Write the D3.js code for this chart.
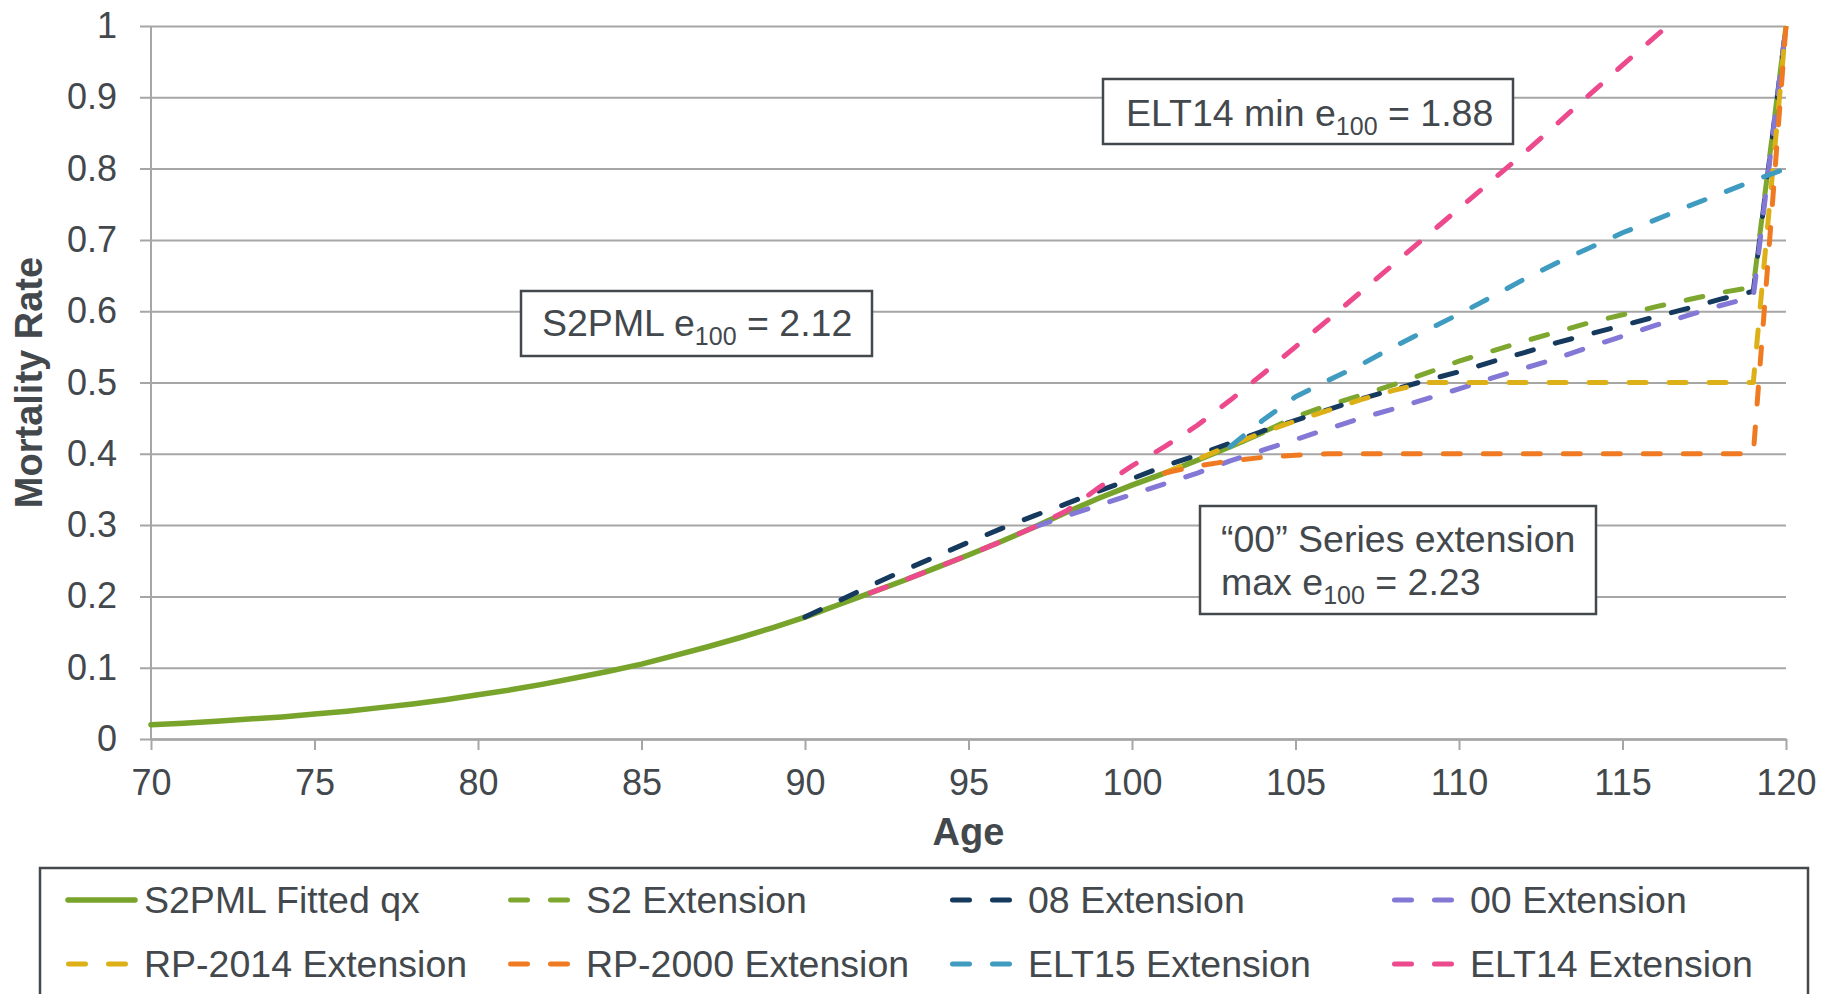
<!DOCTYPE html>
<html>
<head>
<meta charset="utf-8">
<title>Mortality Rate extensions</title>
<script src="https://cdn.jsdelivr.net/npm/d3@7"></script>
<style>
    body { margin: 0; background: #ffffff; }
    svg { display: block; font-family: "Liberation Sans", Arial, sans-serif; }
</style>
</head>
<body>
<div id="chart"></div>
<script>

// Data

var xTicks = [70, 75, 80, 85, 90, 95, 100, 105, 110, 115, 120];
var yTicks = [0, 0.1, 0.2, 0.3, 0.4, 0.5, 0.6, 0.7, 0.8, 0.9, 1];
var yTickLabels = ["0", "0.1", "0.2", "0.3", "0.4", "0.5", "0.6", "0.7", "0.8", "0.9", "1"];

var seriesNames = ["S2PML Fitted qx", "S2 Extension", "08 Extension", "00 Extension",
                   "RP-2014 Extension", "RP-2000 Extension", "ELT15 Extension", "ELT14 Extension"];
var seriesColors = ["#78a42c", "#7ea72f", "#153a5e", "#8478d6",
                    "#deb018", "#f07a22", "#3f9cc0", "#ec4a8c"];

var fittedAge = [70, 71, 72, 73, 74, 75, 76, 77, 78, 79, 80, 81, 82, 83, 84, 85, 86, 87,
                 88, 89, 90, 91, 92, 93, 94, 95, 96, 97, 98, 99, 100, 101, 102, 103, 104];
var fittedQx = [0.020, 0.022, 0.025, 0.028, 0.031, 0.035, 0.039, 0.044, 0.049, 0.055, 0.062,
                0.069, 0.077, 0.086, 0.095, 0.105, 0.117, 0.129, 0.142, 0.156, 0.171, 0.188,
                0.205, 0.222, 0.240, 0.258, 0.277, 0.297, 0.318, 0.338, 0.356, 0.373, 0.391,
                0.410, 0.430];

var s2Age = [103, 104, 105, 106, 107, 108, 109, 110, 111, 112, 113, 114, 115, 116, 117, 118, 119, 120];
var s2Qx = [0.410, 0.430, 0.452, 0.468, 0.482, 0.497, 0.513, 0.530, 0.544, 0.558, 0.571,
            0.584, 0.595, 0.606, 0.616, 0.626, 0.634, 1.0];

var ext08Age = [90, 91, 92, 93, 94, 95, 96, 97, 98, 99, 100, 101, 102, 103, 104, 105, 106, 107,
                108, 109, 110, 111, 112, 113, 114, 115, 116, 117, 118, 119, 120];
var ext08Qx = [0.171, 0.193, 0.215, 0.236, 0.256, 0.276, 0.295, 0.313, 0.330, 0.348, 0.365,
               0.383, 0.398, 0.415, 0.432, 0.447, 0.462, 0.477, 0.490, 0.503, 0.515, 0.529,
               0.542, 0.556, 0.568, 0.580, 0.592, 0.604, 0.617, 0.628, 1.0];

var ext00Age = [97, 98, 99, 100, 101, 102, 103, 104, 105, 106, 107, 108, 109, 110, 111, 112,
                113, 114, 115, 116, 117, 118, 119, 120];
var ext00Qx = [0.297, 0.313, 0.328, 0.343, 0.358, 0.373, 0.390, 0.405, 0.420, 0.435, 0.450,
               0.463, 0.477, 0.491, 0.506, 0.520, 0.534, 0.550, 0.565, 0.580, 0.594, 0.608,
               0.620, 1.0];

var rp2014Age = [101, 102, 103, 104, 105, 106, 107, 108, 109, 110, 111, 112, 113, 114, 115,
                 116, 117, 118, 119, 120];
var rp2014Qx = [0.373, 0.392, 0.412, 0.430, 0.446, 0.461, 0.476, 0.489, 0.500, 0.500, 0.500,
                0.500, 0.500, 0.500, 0.500, 0.500, 0.500, 0.500, 0.500, 1.0];

var rp2000Age = [101, 102, 103, 104, 105, 106, 107, 108, 109, 110, 111, 112, 113, 114, 115,
                 116, 117, 118, 119, 120];
var rp2000Qx = [0.373, 0.383, 0.390, 0.395, 0.398, 0.400, 0.400, 0.400, 0.400, 0.400, 0.400,
                0.400, 0.400, 0.400, 0.400, 0.400, 0.400, 0.400, 0.400, 1.0];

var elt15Age = [103, 104, 105, 106, 107, 108, 109, 110, 111, 112, 113, 114, 115, 116, 117, 118, 119, 120];
var elt15Qx = [0.410, 0.447, 0.480, 0.503, 0.525, 0.550, 0.573, 0.596, 0.620, 0.645, 0.668,
               0.689, 0.710, 0.728, 0.747, 0.765, 0.783, 0.800];

var elt14Age = [92, 93, 94, 95, 96, 97, 98, 99, 100, 101, 102, 103, 104, 105, 106, 107, 108,
                109, 110, 111, 112, 113, 114, 115, 116, 117, 118, 119, 120];
var elt14Qx = [0.205, 0.222, 0.240, 0.258, 0.277, 0.297, 0.320, 0.353, 0.383, 0.410, 0.440,
               0.475, 0.512, 0.550, 0.588, 0.627, 0.666, 0.705, 0.744, 0.783, 0.822, 0.863,
               0.904, 0.945, 0.985, 1.025, 1.065, 1.105, 1.145];

var seriesAges = [fittedAge, s2Age, ext08Age, ext00Age, rp2014Age, rp2000Age, elt15Age, elt14Age];
var seriesValues = [fittedQx, s2Qx, ext08Qx, ext00Qx, rp2014Qx, rp2000Qx, elt15Qx, elt14Qx];


var chart = {

    settings : {
        width : 1823,
        height : 994,
        plotLeft : 151,
        plotRight : 1786,
        plotTop : 26,
        plotBottom : 739,
        textColor : "#43484d",
        gridColor : "#a6a6a6",
        boxColor : "#43484d",
        tickFontSize : 36,
        fontSize : 37.5,
        titleFontSize : 38,
        lineWidth : 5,
        dash : "17,23",
    },

    draw : function(){
        var s = chart.settings;

        var svg = d3.select("#chart").append("svg")
            .attr("width", s.width)
            .attr("height", s.height);

        var x = d3.scaleLinear().domain([70, 120]).range([s.plotLeft, s.plotRight]);
        var y = d3.scaleLinear().domain([0, 1]).range([s.plotBottom, s.plotTop]);

        // clip so lines going past 1 stop at the top of the plot
        svg.append("clipPath").attr("id", "plotClip")
            .append("rect")
            .attr("x", s.plotLeft - 5)
            .attr("y", s.plotTop)
            .attr("width", s.plotRight - s.plotLeft + 10)
            .attr("height", s.plotBottom - s.plotTop + 5);

        // horizontal gridlines + y axis ticks/labels
        var yAxis = svg.append("g")
            .attr("transform", "translate(" + s.plotLeft + ",0)")
            .call(d3.axisLeft(y)
                .tickValues(yTicks)
                .tickFormat(function(d, i){ return yTickLabels[i]; })
                .tickSize(11)
                .tickPadding(23));
        yAxis.select(".domain").remove();
        yAxis.selectAll(".tick line")
            .attr("x2", s.plotRight - s.plotLeft)
            .attr("x1", -11)
            .attr("stroke", s.gridColor)
            .attr("stroke-width", 2);
        yAxis.selectAll(".tick text")
            .attr("fill", s.textColor)
            .style("font-size", s.tickFontSize + "px")
            .style("font-family", "'Liberation Sans', Arial, sans-serif");

        // vertical axis line
        svg.append("line")
            .attr("x1", s.plotLeft).attr("x2", s.plotLeft)
            .attr("y1", s.plotTop).attr("y2", s.plotBottom)
            .attr("stroke", s.gridColor)
            .attr("stroke-width", 2);

        // x axis
        var xAxis = svg.append("g")
            .attr("transform", "translate(0," + s.plotBottom + ")")
            .call(d3.axisBottom(x)
                .tickValues(xTicks)
                .tickSize(11)
                .tickPadding(19)
                .tickSizeOuter(0));
        xAxis.select(".domain")
            .attr("stroke", s.gridColor)
            .attr("stroke-width", 2.5);
        xAxis.selectAll(".tick line")
            .attr("stroke", s.gridColor)
            .attr("stroke-width", 2);
        xAxis.selectAll(".tick text")
            .attr("fill", s.textColor)
            .style("font-size", s.tickFontSize + "px")
            .style("font-family", "'Liberation Sans', Arial, sans-serif");

        // axis titles
        svg.append("text")
            .attr("x", (s.plotLeft + s.plotRight) / 2)
            .attr("y", 845)
            .attr("text-anchor", "middle")
            .attr("fill", s.textColor)
            .style("font-size", s.titleFontSize + "px")
            .style("font-weight", "bold")
            .text("Age");

        svg.append("text")
            .attr("transform", "translate(42," + ((s.plotTop + s.plotBottom) / 2) + ") rotate(-90)")
            .attr("text-anchor", "middle")
            .attr("fill", s.textColor)
            .style("font-size", s.titleFontSize + "px")
            .style("font-weight", "bold")
            .text("Mortality Rate");

        // series lines
        var line = d3.line()
            .x(function(d){ return x(d[0]); })
            .y(function(d){ return y(d[1]); });

        var lines = svg.append("g").attr("clip-path", "url(#plotClip)");
        seriesNames.forEach(function(name, i){
            var pts = seriesAges[i].map(function(a, j){ return [a, seriesValues[i][j]]; });
            lines.append("path")
                .datum(pts)
                .attr("d", line)
                .attr("fill", "none")
                .attr("stroke", seriesColors[i])
                .attr("stroke-width", i === 0 ? 5.5 : s.lineWidth)
                .attr("stroke-linecap", "round")
                .attr("stroke-linejoin", "round")
                .attr("stroke-dasharray", i === 0 ? null : s.dash);
        });

        chart.addNote(svg, 521, 291, 351, 65, [["S2PML e", "100", " = 2.12"]], 542, [336]);
        chart.addNote(svg, 1103, 79, 410, 65, [["ELT14 min e", "100", " = 1.88"]], 1126, [126]);
        chart.addNote(svg, 1200, 506, 396, 108,
            [["\u201c00\u201d Series extension", "", ""], ["max e", "100", " = 2.23"]], 1221, [552, 595]);

        chart.addLegend(svg);
    },

    // white box with border and text lines, each line as [before, subscript, after]
    addNote : function(svg, bx, by, bw, bh, lines, tx, baselines){
        var s = chart.settings;
        svg.append("rect")
            .attr("x", bx).attr("y", by)
            .attr("width", bw).attr("height", bh)
            .attr("fill", "#ffffff")
            .attr("stroke", s.boxColor)
            .attr("stroke-width", 2.5);

        lines.forEach(function(parts, i){
            var t = svg.append("text")
                .attr("x", tx)
                .attr("y", baselines[i])
                .attr("fill", s.textColor)
                .style("font-size", s.fontSize + "px");
            t.append("tspan").text(parts[0]);
            if(parts[1] !== ""){
                t.append("tspan")
                    .attr("dy", 9)
                    .style("font-size", "25px")
                    .text(parts[1]);
                t.append("tspan")
                    .attr("dy", -9)
                    .text(parts[2]);
            }
        });
    },

    addLegend : function(svg){
        var s = chart.settings;
        svg.append("rect")
            .attr("x", 40).attr("y", 868)
            .attr("width", 1768).attr("height", 160)
            .attr("fill", "#ffffff")
            .attr("stroke", s.boxColor)
            .attr("stroke-width", 2.5);

        var colX = [66, 508, 950, 1392];
        var rowY = [900, 964];

        seriesNames.forEach(function(name, i){
            var lx = colX[i % 4];
            var ly = rowY[Math.floor(i / 4)];
            var g = svg.append("g");
            if(i === 0){
                g.append("line")
                    .attr("x1", lx + 2).attr("x2", lx + 69)
                    .attr("y1", ly).attr("y2", ly)
                    .attr("stroke", seriesColors[i])
                    .attr("stroke-width", 5.5)
                    .attr("stroke-linecap", "round");
            }else{
                g.append("line")
                    .attr("x1", lx + 2.5).attr("x2", lx + 61)
                    .attr("y1", ly).attr("y2", ly)
                    .attr("stroke", seriesColors[i])
                    .attr("stroke-width", s.lineWidth)
                    .attr("stroke-linecap", "round")
                    .attr("stroke-dasharray", s.dash);
            }
            g.append("text")
                .attr("x", lx + 78)
                .attr("y", ly + 13)
                .attr("fill", s.textColor)
                .style("font-size", s.fontSize + "px")
                .text(name);
        });
    }
};

chart.draw();

</script>
</body>
</html>
